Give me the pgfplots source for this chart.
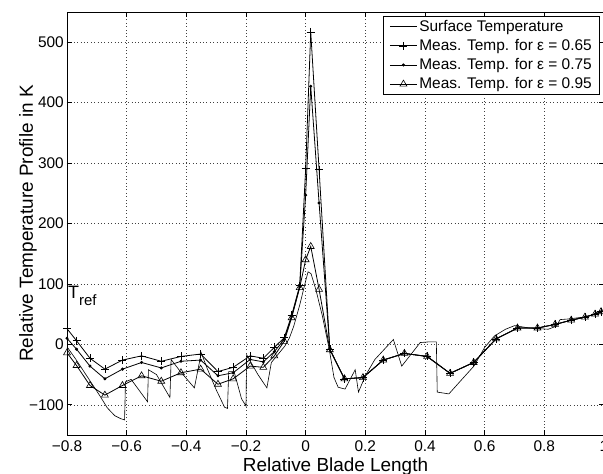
\documentclass[border=0pt]{standalone}
\usepackage{fontspec}
\setmainfont{Liberation Sans}
\usepackage{pgfplots}
\usepackage{pgfplotstable}
\pgfplotsset{compat=1.18}

\pgfplotstableread{
x y
-0.800 -4
-0.770 -25
-0.730 -55
-0.690 -85
-0.665 -105
-0.640 -118
-0.620 -123
-0.607 -125
-0.604 -62
-0.585 -58
-0.530 -95
-0.527 -42
-0.500 -50
-0.455 -88
-0.451 -25
-0.420 -45
-0.373 -72
-0.350 -14
-0.330 -40
-0.300 -75
-0.272 -104
-0.262 -106
-0.258 -45
-0.240 -45
-0.215 -90
-0.200 -102
-0.198 -17
-0.160 -50
-0.130 -72
-0.115 -30
-0.090 -15
-0.070 -3
-0.055 10
-0.040 30
-0.020 65
0.000 105
0.008 120
0.018 117
0.034 91
0.056 47
0.079 -8
0.095 -55
0.109 -71
0.132 -74
0.166 -42
0.177 -79
0.200 -52
0.232 -25
0.294 8
0.322 -36
0.384 3
0.410 4
0.438 4
0.441 -79
0.480 -82
0.520 -60
0.564 -36
0.600 -5
0.633 14
0.670 25
0.700 31
0.750 27
0.813 25
0.840 30
0.853 41
0.880 42
0.930 45
0.970 50
0.995 54
}\surface

\pgfplotstableread{
x e65 e75 e95
-0.800 26 10 -14
-0.768 6 -8 -35
-0.723 -23 -36 -68
-0.673 -41 -57 -84
-0.614 -26 -41 -68
-0.550 -19 -30 -52
-0.484 -28 -39 -61
-0.418 -20 -28 -47
-0.352 -16 -26 -41
-0.294 -45 -52 -66
-0.243 -38 -47 -57
-0.186 -19 -25 -36
-0.142 -23 -29 -38
-0.105 -5 -12 -19
-0.072 11 8 5
-0.047 48 46 44
-0.020 97 95 94
0.000 291 247 140
0.017 517 427 162
0.045 289 234 91
0.081 -8 -8 -9
0.130 -57 -57 -57
0.192 -55 -55 -55
0.260 -26 -26 -26
0.331 -15 -15 -15
0.407 -20 -20 -20
0.484 -48 -48 -48
0.563 -30 -30 -30
0.638 9 9 9
0.710 27 27 27
0.777 27 27 27
0.836 33 33 33
0.890 40 40 40
0.936 45 45 45
0.970 50 50 50
0.990 54 54 54
}\meas

\begin{document}
\begin{tikzpicture}
\begin{axis}[
  width=537bp, height=423bp, scale only axis,
  xmin=-0.8, xmax=1, ymin=-150, ymax=550,
  xtick={-0.8,-0.6,-0.4,-0.2,0,0.2,0.4,0.6,0.8,1},
  xticklabels={−0.8,−0.6,−0.4,−0.2,0,0.2,0.4,0.6,0.8,1},
  ytick={-100,0,100,200,300,400,500},
  yticklabels={−100,0,100,200,300,400,500},
  tick align=inside, tick pos=both, major tick length=5bp,
  tick style={black, line width=0.6bp},
  axis line style={black, line width=0.8bp},
  grid=major,
  major grid style={black!75, line width=0.5bp, dash pattern=on 0.8bp off 2.6bp},
  ticklabel style={font=\fontsize{15.5}{17}\selectfont},
  xticklabel style={inner sep=3bp, yshift=-3bp},
  yticklabel style={inner sep=3bp},
  label style={font=\fontsize{19}{21}\selectfont},
  xlabel={Relative Blade Length},
  ylabel={Relative Temperature Profile in K},
  xlabel style={at={(axis description cs:0.5,0)}, anchor=base, yshift=-36bp, inner sep=0pt},
  ylabel style={at={(axis description cs:0,0.5)}, anchor=base, yshift=34bp, inner sep=0pt},
  legend style={at={(0.9926,0.9905)}, anchor=north east, draw=black, line width=0.6bp,
    font=\fontsize{15.5}{17}\selectfont, inner xsep=6bp, inner ysep=2bp, row sep=2.5bp, fill=white},
  legend cell align=left,
  legend image code/.code={\draw[mark repeat=2,mark phase=2,#1] plot coordinates {(0bp,0bp) (13.5bp,0bp) (27bp,0bp)};},
]
\coordinate (sw) at (rel axis cs:0,0);
\addplot[black, line width=0.6bp, no markers] table[x=x,y=y] {\surface};
\addlegendentry{Surface Temperature}
\addplot[black, line width=0.8bp, mark=+, mark size=4bp, mark options={solid, line width=0.6bp}] table[x=x,y=e65] {\meas};
\addlegendentry{Meas. Temp. for ε = 0.65}
\addplot[black, line width=0.8bp, mark=*, mark size=1.1bp, mark options={solid}] table[x=x,y=e75] {\meas};
\addlegendentry{Meas. Temp. for ε = 0.75}
\addplot[black, line width=0.8bp, mark=triangle, mark size=4bp, mark options={solid, line width=0.6bp}] table[x=x,y=e95] {\meas};
\addlegendentry{Meas. Temp. for ε = 0.95}
\node[anchor=base west, inner sep=0pt, font=\fontsize{18}{20}\selectfont] at (axis cs:-0.797,76) {T\raisebox{-7bp}{\fontsize{15}{16}\selectfont ref}};
\end{axis}
\pgfresetboundingbox
\path[use as bounding box] ([shift={(-67bp,-39bp)}]sw) rectangle ([shift={(536bp,435bp)}]sw);
\end{tikzpicture}
\end{document}
